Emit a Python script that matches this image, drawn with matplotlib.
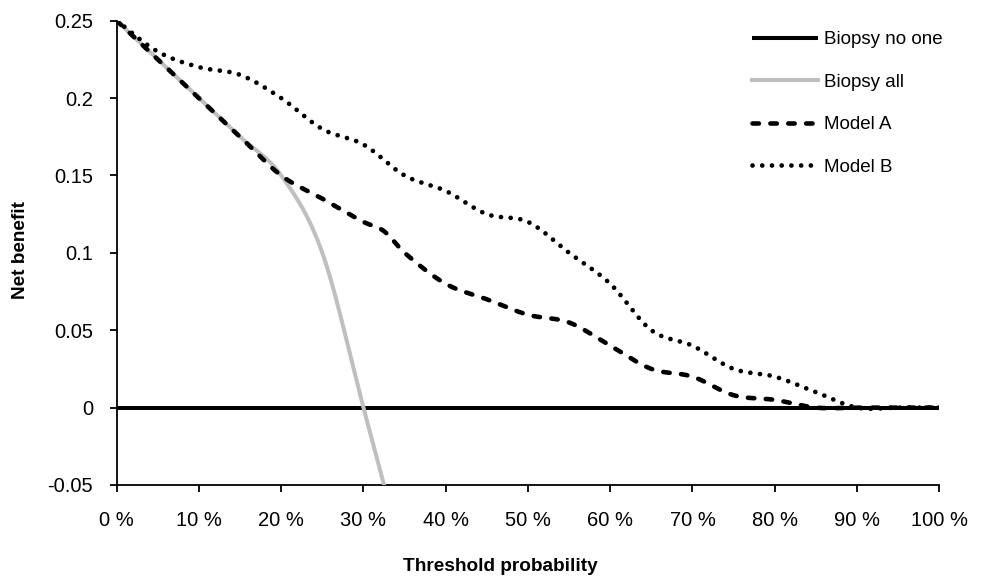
import numpy as np
import matplotlib
matplotlib.use("Agg")
import matplotlib.pyplot as plt

plt.rcParams['font.family'] = ['Liberation Sans', 'DejaVu Sans']
plt.rcParams['axes.unicode_minus'] = False

# ---- data (threshold in %, net benefit) ----
x_none = [0, 10, 20, 30, 40, 50, 60, 70, 80, 90, 100]
y_none = [0, 0, 0, 0, 0, 0, 0, 0, 0, 0, 0]

x_all = [0, 5, 10, 15, 20, 25, 30, 35]
y_all = [0.25, 0.225, 0.2, 0.175, 0.15, 0.10, 0.0, -0.10]

x_a = [0, 5, 10, 15, 20, 25, 30, 32.5, 35, 40, 45, 50, 55, 60, 65, 70, 75, 80, 85, 90, 95, 100]
y_a = [0.25, 0.225, 0.2, 0.175, 0.15, 0.135, 0.12, 0.114, 0.10, 0.08, 0.07, 0.06, 0.055,
       0.04, 0.025, 0.02, 0.008, 0.005, 0.0, 0.0, 0.0, 0.0]

x_b = [0, 5, 10, 15, 20, 25, 30, 35, 40, 45, 50, 55, 60, 65, 70, 75, 80, 85, 90, 95, 100]
y_b = [0.25, 0.23, 0.22, 0.215, 0.2, 0.18, 0.17, 0.15, 0.14, 0.125, 0.12, 0.10, 0.08,
       0.05, 0.04, 0.025, 0.02, 0.01, 0.0, 0.0, 0.0]

series_labels = ['Biopsy no one', 'Biopsy all', 'Model A', 'Model B']
xtick_vals = [0, 10, 20, 30, 40, 50, 60, 70, 80, 90, 100]
xtick_labels = ['0 %', '10 %', '20 %', '30 %', '40 %', '50 %', '60 %', '70 %', '80 %', '90 %', '100 %']
ytick_vals = [-0.05, 0, 0.05, 0.1, 0.15, 0.2, 0.25]
ytick_labels = ['-0.05', '0', '0.05', '0.1', '0.15', '0.2', '0.25']


def smooth_line(xs, ys, n=40):
    """Smoothed line rendering (cubic Hermite, like a spreadsheet's smoothed line)."""
    xs = np.asarray(xs, float)
    ys = np.asarray(ys, float)
    k = len(xs)
    m = np.zeros(k)
    for i in range(k):
        if i == 0:
            m[i] = (ys[1] - ys[0]) / (xs[1] - xs[0])
        elif i == k - 1:
            m[i] = (ys[-1] - ys[-2]) / (xs[-1] - xs[-2])
        else:
            m[i] = (ys[i + 1] - ys[i - 1]) / (xs[i + 1] - xs[i - 1])
    ox, oy = [], []
    for i in range(k - 1):
        h = xs[i + 1] - xs[i]
        t = np.linspace(0, 1, n, endpoint=(i == k - 2))
        h00 = 2 * t**3 - 3 * t**2 + 1
        h10 = t**3 - 2 * t**2 + t
        h01 = -2 * t**3 + 3 * t**2
        h11 = t**3 - t**2
        ox.append(xs[i] + t * h)
        oy.append(h00 * ys[i] + h10 * h * m[i] + h01 * ys[i + 1] + h11 * h * m[i + 1])
    return np.concatenate(ox), np.concatenate(oy)


fig = plt.figure(figsize=(9.82, 5.78), dpi=100)
ax = fig.add_axes([0.1188, 0.1609, 0.8377, 0.8033])

ax.plot(x_none, y_none, color='black', lw=2.9, solid_capstyle='butt',
        label=series_labels[0], zorder=3)
sx, sy = smooth_line(x_all, y_all)
ax.plot(sx, sy, color='#BFBFBF', lw=2.9, label=series_labels[1], zorder=4)
sx, sy = smooth_line(x_a, y_a)
ax.plot(sx, sy, color='black', lw=3.3, linestyle=(0, (1.4, 2.5)),
        dash_capstyle='round', label=series_labels[2], zorder=5)
sx, sy = smooth_line(x_b, y_b)
ax.plot(sx, sy, color='black', lw=3.4, linestyle=(0, (0.01, 2.05)),
        dash_capstyle='round', label=series_labels[3], zorder=6)

ax.set_xlim(0, 100)
ax.set_ylim(-0.05, 0.25)
ax.set_xticks(xtick_vals)
ax.set_xticklabels(xtick_labels)
ax.set_yticks(ytick_vals)
ax.set_yticklabels(ytick_labels)

for s in ['top', 'right']:
    ax.spines[s].set_visible(False)
for s in ['left', 'bottom']:
    ax.spines[s].set_linewidth(1.3)
    ax.spines[s].set_color('black')

ax.tick_params(axis='both', which='major', direction='out', length=5,
               width=1.3, labelsize=14.5, colors='black')
ax.tick_params(axis='x', pad=14)
ax.tick_params(axis='y', pad=12)

ax.set_xlabel('Threshold probability', fontsize=13.7, fontweight='bold')
ax.set_ylabel('Net benefit', fontsize=13.7, fontweight='bold')
ax.xaxis.set_label_coords(0.466, -0.1575)
ax.yaxis.set_label_coords(-0.107, 0.506)

leg = ax.legend(loc='upper left', bbox_to_anchor=(0.766, 0.946),
                bbox_transform=fig.transFigure, frameon=False,
                fontsize=13.5, handlelength=3.5, handletextpad=0.35,
                labelspacing=1.35, borderpad=0, borderaxespad=0)

fig.savefig('out.png', dpi=100)
